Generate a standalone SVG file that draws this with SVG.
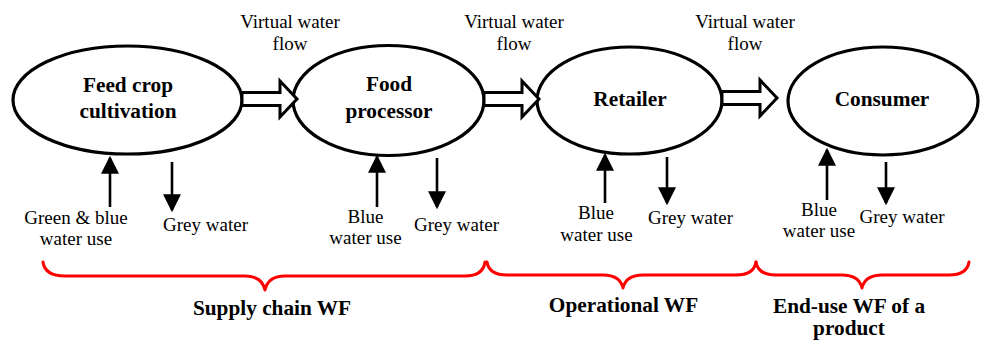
<svg xmlns="http://www.w3.org/2000/svg" xmlns:xlink="http://www.w3.org/1999/xlink" width="990" height="341" viewBox="0 0 990 341">
  <style>
    .node { fill: #fff; stroke: #000; stroke-width: 3.2; }
    .bold { font-family: "Liberation Serif", "Times New Roman", serif; font-weight: bold; font-size: 21.3px; fill: #000; text-anchor: middle; }
    .lbl { font-family: "Liberation Serif", "Times New Roman", serif; font-size: 19px; fill: #000; text-anchor: middle; }
    .flow { fill: #fff; stroke: #000; stroke-width: 3; stroke-linejoin: miter; }
    .small { stroke: #000; stroke-width: 2.6; fill: none; }
    .brace { fill: none; stroke: #ff0000; stroke-width: 3; stroke-linecap: round; stroke-linejoin: round; }
  </style>
  <defs>
    <!-- hollow block arrow for the virtual water flow, tip at x=55 -->
    <path id="blk" d="M0,-6.5 L38,-6.5 L38,-18 L55,0 L38,18 L38,6.5 L0,6.5 Z"/>
    <marker id="head" markerUnits="userSpaceOnUse" markerWidth="18" markerHeight="18" viewBox="0 0 16 16" refX="14" refY="8" orient="auto">
      <path d="M0,0 L16,8 L0,16 Z" fill="#000"/>
    </marker>
  </defs>
  <rect width="990" height="341" fill="#fff"/>

  <!-- stages -->
  <g id="feed-crop">
    <ellipse class="node" cx="127.5" cy="100" rx="114.5" ry="54"/>
    <text class="bold" x="128" y="92">Feed crop</text>
    <text class="bold" x="128" y="118">cultivation</text>
  </g>
  <g id="food-processor">
    <ellipse class="node" cx="388.5" cy="100.5" rx="95.5" ry="55"/>
    <text class="bold" x="389" y="91">Food</text>
    <text class="bold" x="389" y="118">processor</text>
  </g>
  <g id="retailer">
    <ellipse class="node" cx="629.5" cy="100.5" rx="92.5" ry="53.5"/>
    <text class="bold" x="630" y="106">Retailer</text>
  </g>
  <g id="consumer">
    <ellipse class="node" cx="883" cy="101" rx="95" ry="54"/>
    <text class="bold" x="882" y="106">Consumer</text>
  </g>

  <!-- connectors -->
  <g id="connectors">
    <use xlink:href="#blk" class="flow" transform="translate(242,99)"/>
    <use xlink:href="#blk" class="flow" transform="translate(484,99)"/>
    <use xlink:href="#blk" class="flow" transform="translate(722,98)"/>

    <line class="small" x1="110" y1="207" x2="110" y2="158" marker-end="url(#head)"/>
    <line class="small" x1="172" y1="162" x2="172" y2="210" marker-end="url(#head)"/>
    <line class="small" x1="377" y1="207" x2="377" y2="157" marker-end="url(#head)"/>
    <line class="small" x1="437" y1="158" x2="437" y2="207" marker-end="url(#head)"/>
    <line class="small" x1="605" y1="203" x2="605" y2="155" marker-end="url(#head)"/>
    <line class="small" x1="667" y1="157" x2="667" y2="203" marker-end="url(#head)"/>
    <line class="small" x1="827" y1="200" x2="827" y2="150" marker-end="url(#head)"/>
    <line class="small" x1="886" y1="162" x2="886" y2="203" marker-end="url(#head)"/>
  </g>

  <!-- flow labels -->
  <g id="flow-labels">
    <text class="lbl" x="290" y="28">Virtual water</text>
    <text class="lbl" x="290" y="50">flow</text>
    <text class="lbl" x="514" y="28">Virtual water</text>
    <text class="lbl" x="514" y="50">flow</text>
    <text class="lbl" x="745" y="28">Virtual water</text>
    <text class="lbl" x="745" y="50">flow</text>
  </g>

  <!-- water use labels -->
  <g id="water-labels">
    <text class="lbl" x="76" y="224">Green &amp; blue</text>
    <text class="lbl" x="76" y="245">water use</text>
    <text class="lbl" x="205.5" y="231">Grey water</text>
    <text class="lbl" x="365.5" y="223">Blue</text>
    <text class="lbl" x="365.5" y="244">water use</text>
    <text class="lbl" x="456.5" y="231">Grey water</text>
    <text class="lbl" x="596" y="219">Blue</text>
    <text class="lbl" x="596.5" y="241">water use</text>
    <text class="lbl" x="690.5" y="224">Grey water</text>
    <text class="lbl" x="819" y="216">Blue</text>
    <text class="lbl" x="819" y="237">water use</text>
    <text class="lbl" x="902" y="223">Grey water</text>
  </g>

  <!-- footprint groupings -->
  <g id="braces">
    <path class="brace" d="M43,262 Q45,276 65,276 L245,276 Q262,276 265,290 Q268,276 285,276 L465,276 Q483,276 485,262"/>
    <path class="brace" d="M487,262 Q489,275 507,275 L603,275 Q620,275 623,288 Q626,275 643,275 L736,275 Q754,275 756,262"/>
    <path class="brace" d="M756,262 Q758,275 776,275 L842,275 Q859,275 862,288 Q865,275 882,275 L949,275 Q967,275 969,262"/>
  </g>
  <g id="brace-labels">
    <text class="bold" x="272" y="315">Supply chain WF</text>
    <text class="bold" x="623.5" y="312">Operational WF</text>
    <text class="bold" x="849" y="313">End-use WF of a</text>
    <text class="bold" x="849" y="335">product</text>
  </g>
</svg>
